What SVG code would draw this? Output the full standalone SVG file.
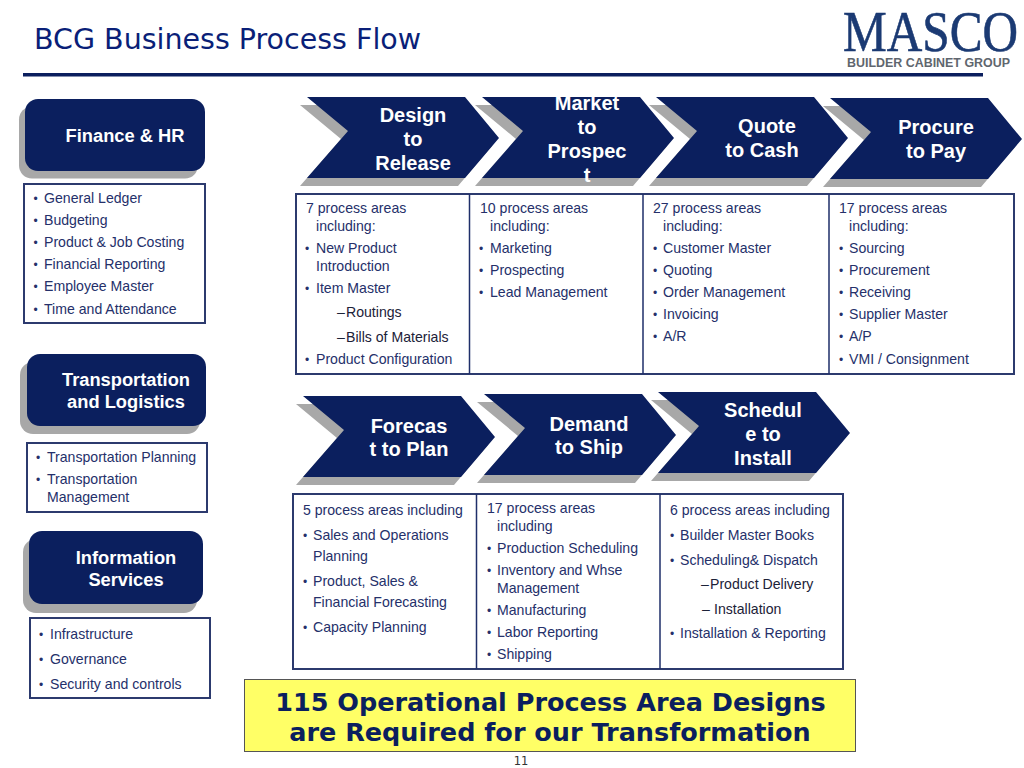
<svg xmlns="http://www.w3.org/2000/svg" width="1024" height="768" viewBox="0 0 1024 768">
<style>
text{font-family:"Liberation Sans",Arial,sans-serif}
.t{font-size:14.1px;fill:#25306a}
.d{fill:#1c2238}
.b{font-size:12px}
.h{font-size:20px;font-weight:700;fill:#fff;text-anchor:middle}
.s{font-size:18.3px}
.box{fill:#fff;stroke:#2c3a6e;stroke-width:2}
.div{stroke:#1f2f6a;stroke-width:1.5;fill:none}
.navy{fill:#0b1f5e}
.gray{fill:#a8a8a8}
.c{font-family:"DejaVu Sans",sans-serif;font-size:25.5px;font-weight:700;fill:#0b1f5e;text-anchor:middle}
</style>
<defs>
<polygon id="chev" points="0,0 158,0 192,41 158,81 0,81 41,34"/>
</defs>
<rect width="1024" height="768" fill="#fff"/>
<g id="title">
<text x="34" y="49" style="font-family:'DejaVu Sans',sans-serif;font-size:28.500px" fill="#0a1f78">BCG Business Process Flow</text>
<rect x="23" y="73" width="960" height="3.500" fill="#0b1f5e"/>
</g>
<g id="logo">
<text x="843" y="51" textLength="175" lengthAdjust="spacingAndGlyphs" style="font-family:'Liberation Serif',serif;font-size:57px;stroke:#1b3a73;stroke-width:.6" fill="#1b3a73">MASCO</text>
<text x="847" y="67" textLength="163" lengthAdjust="spacingAndGlyphs" style="font-size:12.500px;font-weight:700" fill="#5f666e">BUILDER CABINET GROUP</text>
</g>
<g id="finance">
<rect x="19" y="106.500" width="179" height="72" rx="13" class="gray"/>
<rect x="25" y="99" width="180" height="72" rx="13" class="navy"/>
<text x="125" y="142" class="h s">Finance &amp; HR</text>
<rect x="24" y="184" width="181" height="139" class="box"/>
<g class="t">
<text y="203"><tspan x="33.500" class="b">•</tspan><tspan x="44">General Ledger</tspan></text>
<text y="225"><tspan x="33.500" class="b">•</tspan><tspan x="44">Budgeting</tspan></text>
<text y="247"><tspan x="33.500" class="b">•</tspan><tspan x="44">Product &amp; Job Costing</tspan></text>
<text y="269"><tspan x="33.500" class="b">•</tspan><tspan x="44">Financial Reporting</tspan></text>
<text y="291"><tspan x="33.500" class="b">•</tspan><tspan x="44">Employee Master</tspan></text>
<text y="314"><tspan x="33.500" class="b">•</tspan><tspan x="44">Time and Attendance</tspan></text>
</g>
</g>
<g id="transport">
<rect x="20" y="362" width="180" height="72" rx="13" class="gray"/>
<rect x="27" y="354" width="179" height="72" rx="13" class="navy"/>
<text x="126" y="386" class="h s">Transportation</text>
<text x="126" y="408" class="h s">and Logistics</text>
<rect x="27" y="443" width="180" height="69" class="box"/>
<g class="t">
<text y="462"><tspan x="36" class="b">•</tspan><tspan x="47">Transportation Planning</tspan></text>
<text y="484"><tspan x="36" class="b">•</tspan><tspan x="47">Transportation</tspan></text>
<text x="47" y="502">Management</text>
</g>
</g>
<g id="infoservices">
<rect x="23" y="539" width="174" height="74" rx="13" class="gray"/>
<rect x="29" y="531" width="174" height="73" rx="13" class="navy"/>
<text x="126" y="564" class="h s">Information</text>
<text x="126" y="586" class="h s">Services</text>
<rect x="30" y="618" width="180" height="80" class="box"/>
<g class="t">
<text y="639"><tspan x="39" class="b">•</tspan><tspan x="50">Infrastructure</tspan></text>
<text y="664"><tspan x="39" class="b">•</tspan><tspan x="50">Governance</tspan></text>
<text y="689"><tspan x="39" class="b">•</tspan><tspan x="50">Security and controls</tspan></text>
</g>
</g>
<g id="design">
<use href="#chev" x="300" y="105" class="gray"/><use href="#chev" x="307" y="97" class="navy"/>
<text x="413" y="122" class="h">Design</text><text x="413" y="146" class="h">to</text><text x="413" y="170" class="h">Release</text>
</g>
<g id="market">
<use href="#chev" x="475" y="105" class="gray"/><use href="#chev" x="482" y="97" class="navy"/>
<text x="587" y="110" class="h">Market</text><text x="587" y="134" class="h">to</text><text x="587" y="158" class="h">Prospec</text><text x="587" y="182" class="h">t</text>
</g>
<g id="quote">
<use href="#chev" x="649" y="105" class="gray"/><use href="#chev" x="656" y="97" class="navy"/>
<text x="767" y="133" class="h">Quote</text><text x="762" y="157" class="h">to Cash</text>
</g>
<g id="procure">
<use href="#chev" x="823" y="106" class="gray"/><use href="#chev" x="830" y="98" class="navy"/>
<text x="936" y="134" class="h">Procure</text><text x="936" y="158" class="h">to Pay</text>
</g>
<g id="top-table">
<rect x="296" y="194" width="718" height="180" class="box"/>
<path class="div" d="M469.500 194V374M643 194V374M829 194V374"/>
<g class="t">
<text x="306" y="213">7 process areas</text><text x="316" y="231">including:</text>
<text y="253"><tspan x="305" class="b">•</tspan><tspan x="316">New Product</tspan></text><text x="316" y="271">Introduction</text>
<text y="293"><tspan x="305" class="b">•</tspan><tspan x="316">Item Master</tspan></text>
<text y="317" class="d"><tspan x="337">–</tspan><tspan x="346">Routings</tspan></text>
<text y="342" class="d"><tspan x="337">–</tspan><tspan x="346">Bills of Materials</tspan></text>
<text y="364"><tspan x="305" class="b">•</tspan><tspan x="316">Product Configuration</tspan></text>
<text x="480" y="213">10 process areas</text><text x="490" y="231">including:</text>
<text y="253"><tspan x="479" class="b">•</tspan><tspan x="490">Marketing</tspan></text>
<text y="275"><tspan x="479" class="b">•</tspan><tspan x="490">Prospecting</tspan></text>
<text y="297"><tspan x="479" class="b">•</tspan><tspan x="490">Lead Management</tspan></text>
<text x="653" y="213">27 process areas</text><text x="663" y="231">including:</text>
<text y="253"><tspan x="653" class="b">•</tspan><tspan x="663">Customer Master</tspan></text>
<text y="275"><tspan x="653" class="b">•</tspan><tspan x="663">Quoting</tspan></text>
<text y="297"><tspan x="653" class="b">•</tspan><tspan x="663">Order Management</tspan></text>
<text y="319"><tspan x="653" class="b">•</tspan><tspan x="663">Invoicing</tspan></text>
<text y="341"><tspan x="653" class="b">•</tspan><tspan x="663">A/R</tspan></text>
<text x="839" y="213">17 process areas</text><text x="849" y="231">including:</text>
<text y="253"><tspan x="839" class="b">•</tspan><tspan x="849">Sourcing</tspan></text>
<text y="275"><tspan x="839" class="b">•</tspan><tspan x="849">Procurement</tspan></text>
<text y="297"><tspan x="839" class="b">•</tspan><tspan x="849">Receiving</tspan></text>
<text y="319"><tspan x="839" class="b">•</tspan><tspan x="849">Supplier Master</tspan></text>
<text y="341"><tspan x="839" class="b">•</tspan><tspan x="849">A/P</tspan></text>
<text y="364"><tspan x="839" class="b">•</tspan><tspan x="849">VMI / Consignment</tspan></text>
</g>
</g>
<g id="forecast">
<use href="#chev" x="296" y="404" class="gray"/><use href="#chev" x="303" y="396" class="navy"/>
<text x="409" y="433" class="h">Forecas</text><text x="409" y="456" class="h">t to Plan</text>
</g>
<g id="demand">
<use href="#chev" x="477" y="402" class="gray"/><use href="#chev" x="484" y="394" class="navy"/>
<text x="589" y="431" class="h">Demand</text><text x="589" y="454" class="h">to Ship</text>
</g>
<g id="schedule">
<use href="#chev" x="651" y="400" class="gray"/><use href="#chev" x="658" y="392" class="navy"/>
<text x="763" y="417" class="h">Schedul</text><text x="763" y="441" class="h">e to</text><text x="763" y="465" class="h">Install</text>
</g>
<g id="bottom-table">
<rect x="293" y="494" width="550" height="175" class="box"/>
<path class="div" d="M476.500 494V669M660 494V669"/>
<g class="t">
<text x="303" y="515">5 process areas including</text>
<text y="540"><tspan x="303" class="b">•</tspan><tspan x="313">Sales and Operations</tspan></text><text x="313" y="561">Planning</text>
<text y="586"><tspan x="303" class="b">•</tspan><tspan x="313">Product, Sales &amp;</tspan></text><text x="313" y="607">Financial Forecasting</text>
<text y="632"><tspan x="303" class="b">•</tspan><tspan x="313">Capacity Planning</tspan></text>
<text x="487" y="513">17 process areas</text><text x="497" y="531">including</text>
<text y="553"><tspan x="487" class="b">•</tspan><tspan x="497">Production Scheduling</tspan></text>
<text y="575"><tspan x="487" class="b">•</tspan><tspan x="497">Inventory and Whse</tspan></text><text x="497" y="593">Management</text>
<text y="615"><tspan x="487" class="b">•</tspan><tspan x="497">Manufacturing</tspan></text>
<text y="637"><tspan x="487" class="b">•</tspan><tspan x="497">Labor Reporting</tspan></text>
<text y="659"><tspan x="487" class="b">•</tspan><tspan x="497">Shipping</tspan></text>
<text x="670" y="515">6 process areas including</text>
<text y="540"><tspan x="670" class="b">•</tspan><tspan x="680">Builder Master Books</tspan></text>
<text y="565"><tspan x="670" class="b">•</tspan><tspan x="680">Scheduling&amp; Dispatch</tspan></text>
<text y="589" class="d"><tspan x="701">–</tspan><tspan x="710">Product Delivery</tspan></text>
<text y="614" class="d"><tspan x="702">–</tspan><tspan x="714">Installation</tspan></text>
<text y="638"><tspan x="670" class="b">•</tspan><tspan x="680">Installation &amp; Reporting</tspan></text>
</g>
</g>
<g id="callout">
<rect x="244.500" y="679.500" width="611" height="72" fill="#ffff66" stroke="#555" stroke-width="1"/>
<text x="550.500" y="711" class="c">115 Operational Process Area Designs</text>
<text x="550" y="741" class="c">are Required for our Transformation</text>
</g>
<text id="page" x="521" y="765" text-anchor="middle" style="font-family:'DejaVu Sans',sans-serif;font-size:11.500px" fill="#333">11</text>
</svg>
